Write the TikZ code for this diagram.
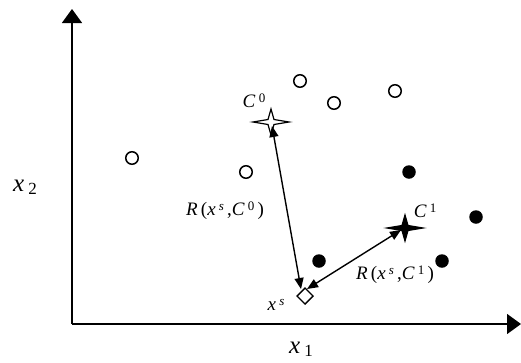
\documentclass[tikz,border=0pt]{standalone}
\usepackage{fontspec}
\setmainfont{Liberation Serif}
\usetikzlibrary{arrows.meta}
\newcommand{\supx}[1]{\raisebox{0.6ex}{\fontsize{13}{13}\selectfont #1}}
\newcommand{\subx}[1]{\raisebox{-0.3ex}{\fontsize{17}{17}\selectfont #1}}
\begin{document}
\begin{tikzpicture}[x=1pt,y=-1pt,
  lab/.style={font=\fontsize{19}{19}\selectfont, inner sep=0pt},
  biglab/.style={font=\fontsize{25}{25}\selectfont, inner sep=0pt},
  axis/.style={line width=1.4pt, -{Triangle[length=14pt,width=20pt]}},
  link/.style={line width=1.4pt, {Triangle[length=11pt,width=9pt]}-{Triangle[length=11pt,width=9pt]}},
  opendot/.style={circle, draw, line width=1.5pt, fill=white, minimum size=12.5pt, inner sep=0pt},
  filldot/.style={circle, fill=black, minimum size=13.5pt, inner sep=0pt}]
\useasboundingbox (0,0) rectangle (521,362);
% axes
\coordinate (O) at (72,324);
\coordinate (Ytip) at (72,9);
\coordinate (Xtip) at (521,324);
\draw[axis] (O) -- (Ytip);
\draw[axis] (O) -- (Xtip);
\node[biglab] (x2) at (25,187) {\textit{x}\,\subx{2}};
\node[biglab] (x1) at (301,349) {\textit{x}\,\subx{1}};
% open circles
\node[opendot] (a1) at (132,158) {};
\node[opendot] (a2) at (246,172) {};
\node[opendot] (a3) at (300,81) {};
\node[opendot] (a4) at (334,103) {};
\node[opendot] (a5) at (395,91) {};
% filled circles
\node[filldot] (b1) at (409,172) {};
\node[filldot] (b2) at (476,217) {};
\node[filldot] (b3) at (442,261) {};
\node[filldot] (b4) at (319,261) {};
% centres (stars)
\coordinate (C0) at (271,122);
\coordinate (C1) at (405,228);
\draw[line width=1.2pt, fill=white] (C0) ++(-18,0) -- ++(15,-2.5) -- ++(3,-10.5) -- ++(3,10.5) -- ++(15,2.5)
  -- ++(-15,2.5) -- ++(-3,10.5) -- ++(-3,-10.5) -- cycle;
\draw[line width=1.2pt, fill=black] (C1) ++(-18,0) -- ++(15,-2.5) -- ++(3,-10.5) -- ++(3,10.5) -- ++(15,2.5)
  -- ++(-15,2.5) -- ++(-3,10.5) -- ++(-3,-10.5) -- cycle;
% sample point
\coordinate (xs) at (305,296);
\draw[line width=1.4pt, fill=white] (xs) ++(0,-8) -- ++(8,8) -- ++(-8,8) -- ++(-8,-8) -- cycle;
\coordinate (xsA) at (301,289);
\coordinate (xsB) at (307,289);
\coordinate (C0t) at (272,126);
\coordinate (C1t) at (401,230);
\draw[link] (xsA) -- (C0t);
\draw[link] (xsB) -- (C1t);
% labels
\node[lab] (lC0) at (254,101) {\textit{C}\,\supx{0}};
\node[lab] (lC1) at (425,211) {\textit{C}\,\supx{1}};
\node[lab] (lR0) at (225,211) {\textit{R}\,(\textit{x}\,\supx{\textit{s}}\,,\textit{C}\,\supx{0}\,)};
\node[lab] (lR1) at (395,275) {\textit{R}\,(\textit{x}\,\supx{\textit{s}}\,,\textit{C}\,\supx{1}\,)};
\node[lab] (lxs) at (276,305) {\textit{x}\,\supx{\textit{s}}};
\end{tikzpicture}
\end{document}
